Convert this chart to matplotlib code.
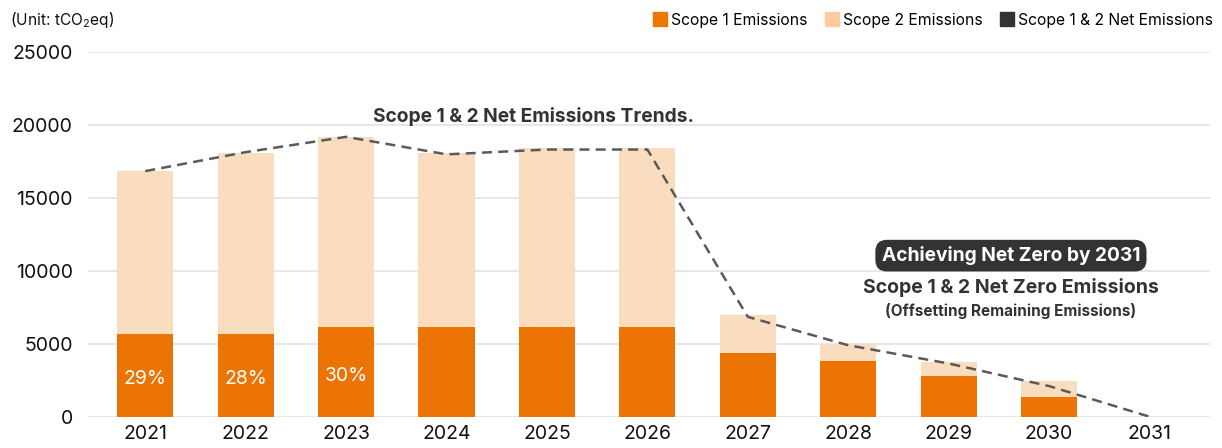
import numpy as np
import matplotlib
matplotlib.use('Agg')
import matplotlib.pyplot as plt
from matplotlib.lines import Line2D

plt.rcParams['font.family'] = ['Inter', 'DejaVu Sans']
plt.rcParams['mathtext.fontset'] = 'custom'
plt.rcParams['mathtext.rm'] = 'Inter'
plt.rcParams['mathtext.it'] = 'Inter'

years = ['2021', '2022', '2023', '2024', '2025', '2026', '2027', '2028', '2029', '2030', '2031']
scope1 = [5680, 5680, 6120, 6120, 6120, 6120, 4340, 3815, 2810, 1370, 0]
totals = [16850, 18080, 19180, 18080, 18420, 18420, 6970, 4960, 3770, 2445, 0]
scope2 = [t - s for t, s in zip(totals, scope1)]
net_line = [16850, 18150, 19200, 18000, 18330, 18330, 6850, 4900, 3650, 2100, 0]
pct_labels = ['29%', '28%', '30%']

c_s1 = '#EC7404'
c_s2 = '#FADDBF'
c_line = '#5a5a5a'

fig = plt.figure(figsize=(12.22, 4.48), dpi=100)
ax = fig.add_axes([0.072, 0.0699, 0.918, 0.8133])

x = np.arange(len(years))
w = 0.56
ax.bar(x, scope1, width=w, color=c_s1, zorder=2)
ax.bar(x, scope2, width=w, bottom=scope1, color=c_s2, zorder=2)
ax.plot(x, net_line, color=c_line, lw=1.8, ls=(0, (4, 2.5)), zorder=3)

for i, lab in enumerate(pct_labels):
    ax.text(x[i], scope1[i] * 0.46, lab, color='white', fontsize=14,
            ha='center', va='center', zorder=4)

ax.set_ylim(0, 25000)
ax.set_xlim(-0.57, 10.6)
ax.set_yticks(range(0, 25001, 5000))
ax.set_xticks(x)
ax.set_xticklabels(years)
ax.grid(axis='y', color='#e3e3e3', lw=1.2, zorder=0)
ax.set_axisbelow(True)
for s in ax.spines.values():
    s.set_visible(False)
ax.tick_params(axis='both', length=0, labelsize=14, colors='#111111')
ax.tick_params(axis='y', pad=11)
ax.tick_params(axis='x', pad=6)

fig.text(0.008, 0.955, '(Unit: tCO$_2$eq)', fontsize=11.2, color='#111111', va='center')

# legend
handles = [Line2D([], [], marker='s', ls='', color=c, markersize=10)
           for c in ['#EE7700', '#FFCBA0', '#333333']]
fig.legend(handles, ['Scope 1 Emissions', 'Scope 2 Emissions', 'Scope 1 & 2 Net Emissions'],
           loc='center right', bbox_to_anchor=(1.004, 0.955), ncol=3, frameon=False,
           fontsize=11.3, handletextpad=0.2, columnspacing=1.05, handlelength=1.0)

ax.text(3.87, 20600, 'Scope 1 & 2 Net Emissions Trends.', fontsize=13.8, fontweight='bold',
        color='#333333', ha='center', va='center')

ax.text(8.62, 11050, 'Achieving Net Zero by 2031', fontsize=13.8, fontweight='bold',
        color='white', ha='center', va='center',
        bbox=dict(boxstyle='round,pad=0.33,rounding_size=0.6', fc='#333333', ec='none'))
ax.text(8.62, 8850, 'Scope 1 & 2 Net Zero Emissions', fontsize=14, fontweight='bold',
        color='#333333', ha='center', va='center')
ax.text(8.62, 7250, '(Offsetting Remaining Emissions)', fontsize=11, fontweight='bold',
        color='#333333', ha='center', va='center')

fig.savefig('out.png', dpi=100)
